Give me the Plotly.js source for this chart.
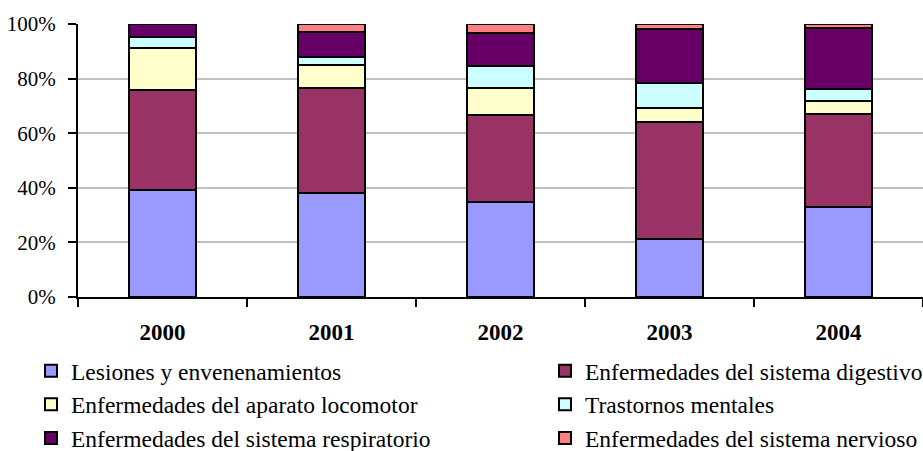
<!DOCTYPE html>
<html>
<head>
<meta charset="utf-8">
<script src="https://cdn.plot.ly/plotly-3.0.1.min.js"></script>
<style>html,body{margin:0;padding:0;background:#fff;}#chart{width:923px;height:451px;}</style>
</head>
<body>
<div id="chart"></div>
<script>
var years = ['2000', '2001', '2002', '2003', '2004'];
var seriesNames = [
  'Lesiones y envenenamientos',
  'Enfermedades del sistema digestivo',
  'Enfermedades del aparato locomotor',
  'Trastornos mentales',
  'Enfermedades del sistema respiratorio',
  'Enfermedades del sistema nervioso'
];
var lesiones     = [39.1, 38.1, 34.8, 21.3, 33.0];
var digestivo    = [36.9, 38.3, 31.7, 42.8, 34.1];
var locomotor    = [15.1,  8.7, 10.0,  5.3,  4.8];
var mentales     = [ 4.2,  2.7,  8.3,  9.1,  4.3];
var respiratorio = [ 4.7,  9.2, 11.8, 19.8, 22.2];
var nervioso     = [ 0.0,  3.0,  3.4,  1.7,  1.6];

var seriesValues = [lesiones, digestivo, locomotor, mentales, respiratorio, nervioso];
var colors = ['#9999FF', '#993366', '#FFFFCC', '#CCFFFF', '#660066', '#FF8080'];
var legendOf = ['legend', 'legend2', 'legend', 'legend2', 'legend', 'legend2'];

var traces = seriesValues.map(function (vals, i) {
  return {
    type: 'bar',
    name: seriesNames[i],
    x: years,
    y: vals,
    width: 0.4,
    legend: legendOf[i],
    marker: { color: colors[i], line: { color: '#000000', width: 2 } },
    hoverinfo: 'name+y'
  };
});

var serif = 'Liberation Serif, Times New Roman, serif';
var legendFont = { family: serif, size: 23.5, color: '#000' };

var layout = {
  width: 923,
  height: 451,
  margin: { l: 78, r: 0, t: 24, b: 154, pad: 0, autoexpand: false },
  paper_bgcolor: '#ffffff',
  plot_bgcolor: '#ffffff',
  barmode: 'stack',
  barnorm: 'percent',
  showlegend: true,
  font: { family: serif, color: '#000' },
  xaxis: {
    type: 'category',
    tickson: 'boundaries',
    ticks: 'outside',
    ticklen: 8,
    tickwidth: 2,
    tickcolor: '#000',
    showline: true,
    linecolor: '#000',
    linewidth: 2,
    showgrid: false,
    zeroline: false,
    tickangle: 0,
    automargin: false,
    tickfont: { family: serif, size: 23, weight: 'bold', color: '#000' },
    ticklabelstandoff: 13,
    fixedrange: true
  },
  yaxis: {
    range: [0, 100],
    dtick: 20,
    ticksuffix: '%',
    ticks: 'outside',
    ticklen: 8,
    tickwidth: 2,
    tickcolor: '#000',
    showline: true,
    linecolor: '#000',
    linewidth: 2,
    showgrid: true,
    gridcolor: '#C0C0C0',
    gridwidth: 2,
    zeroline: false,
    automargin: false,
    tickfont: { family: serif, size: 21, color: '#000' },
    ticklabelstandoff: 8,
    fixedrange: true
  },
  legend: {
    xref: 'container', yref: 'container',
    x: 31 / 923, y: 1 - 349 / 451,
    xanchor: 'left', yanchor: 'top',
    orientation: 'v',
    traceorder: 'normal',
    font: legendFont,
    bgcolor: 'rgba(0,0,0,0)',
    borderwidth: 0,
    tracegroupgap: 0
  },
  legend2: {
    xref: 'container', yref: 'container',
    x: 545 / 923, y: 1 - 349 / 451,
    xanchor: 'left', yanchor: 'top',
    orientation: 'v',
    traceorder: 'normal',
    font: legendFont,
    bgcolor: 'rgba(0,0,0,0)',
    borderwidth: 0,
    tracegroupgap: 0
  }
};

Plotly.newPlot('chart', traces, layout, { displayModeBar: false, staticPlot: true });
</script>
</body>
</html>
